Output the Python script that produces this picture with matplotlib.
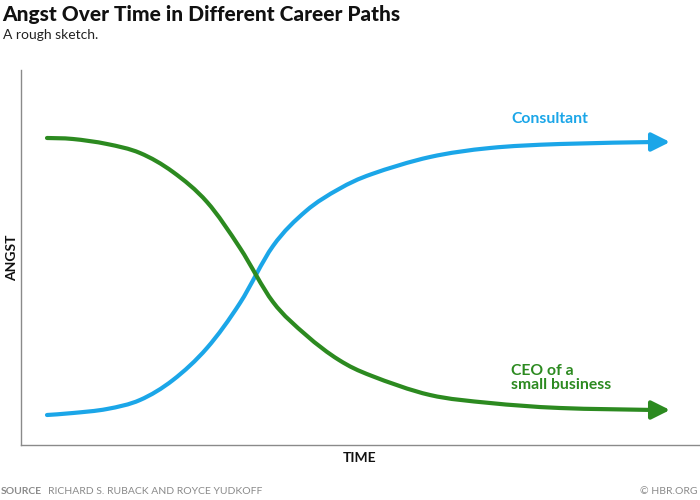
import matplotlib
matplotlib.use("Agg")
import matplotlib.pyplot as plt
from matplotlib.path import Path
from matplotlib.patches import PathPatch
import numpy as np

# Data (time units, angst units); last point is the arrow tip
time_consultant = [26, 52, 86, 119, 152, 186, 219, 252, 285, 318, 351, 409, 469, 539, 634, 649]
angst_consultant = [30, 32, 36, 45, 65, 97, 142, 199, 234, 256, 271, 288, 297, 301, 303, 303]
time_ceo = [26, 52, 86, 119, 152, 186, 219, 252, 285, 318, 351, 409, 469, 539, 634, 649]
angst_ceo = [307, 306, 301, 292, 273, 243, 197, 143, 110, 85, 69, 50, 42, 37, 35, 35]

blue = "#1ba6e8"
green = "#2c8a20"
gray = "#8a8a8a"

plt.rcParams['font.family'] = ['Lato', 'DejaVu Sans']


def smooth_path(xs, ys):
    """Catmull-Rom curve through the given points, drawn as cubic Bezier segments."""
    p = np.column_stack([xs, ys]).astype(float)
    verts = [p[0]]
    codes = [Path.MOVETO]
    n = len(p)
    for i in range(n - 1):
        p0 = p[i - 1] if i > 0 else p[i]
        p1 = p[i]
        p2 = p[i + 1]
        p3 = p[i + 2] if i + 2 < n else p[i + 1]
        c1 = p1 + (p2 - p0) / 6.0
        c2 = p2 - (p3 - p1) / 6.0
        verts += [c1, c2, p2]
        codes += [Path.CURVE4] * 3
    return Path(verts, codes)


fig = plt.figure(figsize=(7, 5), dpi=100)
ax = fig.add_axes([21/700, 55/500, 679/700, 375/500])
ax.set_xlim(0, 679)
ax.set_ylim(0, 375)

for t, a, c in [(time_consultant, angst_consultant, blue), (time_ceo, angst_ceo, green)]:
    ax.add_patch(PathPatch(smooth_path(t[:-1], a[:-1]), facecolor='none', edgecolor=c,
                           lw=3.0, capstyle='round', joinstyle='round'))
    ax.annotate('', xy=(t[-1], a[-1]), xytext=(t[-2], a[-2]),
                arrowprops=dict(arrowstyle='-|>,head_length=1.1,head_width=0.55',
                                color=c, lw=3.0, shrinkA=0, shrinkB=0))

for s in ['top', 'right']:
    ax.spines[s].set_visible(False)
for s in ['left', 'bottom']:
    ax.spines[s].set_color(gray)
    ax.spines[s].set_linewidth(1.0)
ax.set_xticks([])
ax.set_yticks([])

ax.text(490, 326, 'Consultant', color=blue, fontsize=11.3, fontweight='bold', ha='left', va='center')
ax.text(490, 67, 'CEO of a\nsmall business', color=green, fontsize=11.3, fontweight='bold',
        ha='left', va='center', linespacing=0.95)

fig.text(12/700, 1 - 258/500, 'ANGST', rotation=90, fontsize=10, fontweight='bold',
         ha='center', va='center', color='#111111')
fig.text(360/700, 1 - 458/500, 'TIME', fontsize=10, fontweight='bold',
         ha='center', va='center', color='#111111')

fig.text(2/700, 1 - 14/500, 'Angst Over Time in Different Career Paths', fontsize=15,
         fontweight='black', ha='left', va='center', color='#111111')
fig.text(3/700, 1 - 35/500, 'A rough sketch.', fontsize=10, ha='left', va='center', color='#222222')

fig.text(1/700, 1 - 491/500, 'SOURCE', fontsize=7.5, fontweight='bold', ha='left', va='center',
         color=gray)
fig.text(48/700, 1 - 491/500, 'RICHARD S. RUBACK AND ROYCE YUDKOFF', fontsize=7.5, ha='left',
         va='center', color=gray)
fig.text(697/700, 1 - 491/500, '© HBR.ORG', fontsize=7.5, ha='right', va='center', color=gray)

fig.savefig('out.png', dpi=100)
